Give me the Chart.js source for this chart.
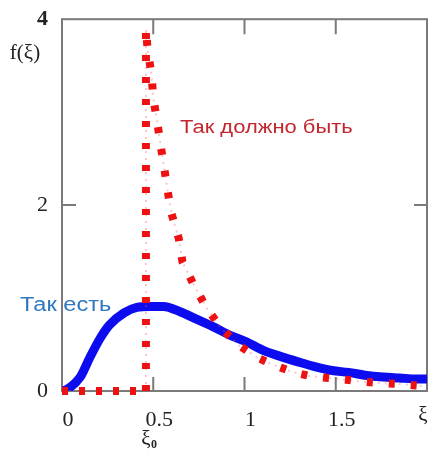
<!DOCTYPE html>
<html>
<head>
<meta charset="utf-8">
<script src="https://cdn.jsdelivr.net/npm/chart.js@4.4.1/dist/chart.umd.min.js"></script>
<style>
  html, body { margin: 0; padding: 0; background: #fff; }
  #wrap { width: 429px; height: 450px; }
</style>
</head>
<body>
<div id="wrap"><canvas id="distChart"></canvas></div>
<script>
// ========== Data ==========
const xiTicks = [0, 0.5, 1, 1.5];
const fTicks = [0, 2, 4];
const xi0 = 0.46;

// "Так есть"
const realXi = [0, 0.03, 0.1, 0.15, 0.21, 0.26, 0.34, 0.41, 0.48, 0.555, 0.65, 0.74, 0.83, 0.92, 1.01, 1.1, 1.2, 1.3, 1.39, 1.48, 1.57, 1.66, 1.76, 1.85, 1.94, 2.0];
const realF  = [0, 0.02, 0.15, 0.35, 0.57, 0.71, 0.84, 0.9, 0.91, 0.91, 0.85, 0.77, 0.69, 0.6, 0.53, 0.44, 0.37, 0.31, 0.26, 0.22, 0.2, 0.17, 0.15, 0.14, 0.13, 0.13];

// "Так должно быть"
const idealXi = [0, 0.46, 0.46, 0.47, 0.49, 0.5, 0.52, 0.54, 0.56, 0.58, 0.6, 0.64, 0.66, 0.72, 0.79, 0.87, 0.97, 1.07, 1.16, 1.27, 1.36, 1.46, 1.56, 1.65, 1.75, 1.85, 1.94, 2.0];
const idealF  = [0, 0, 3.9, 3.65, 3.42, 3.15, 2.92, 2.65, 2.4, 2.14, 1.91, 1.64, 1.39, 1.15, 0.9, 0.68, 0.49, 0.36, 0.28, 0.2, 0.16, 0.14, 0.12, 0.1, 0.085, 0.075, 0.06, 0.05];

const pts = (xs, ys) => xs.map((x, i) => ({ x, y: ys[i] }));
const SERIF = "'Liberation Serif', 'DejaVu Serif', serif";
const SANS = "'Liberation Sans', Arial, sans-serif";

// stretched text, the source picture is a bit wider than tall
function wideText(ctx, text, x, y, sx) {
  ctx.save();
  ctx.translate(x, y);
  ctx.scale(sx, 1);
  ctx.fillText(text, 0, 0);
  ctx.restore();
}

// ========== Frame, inward ticks, labels ==========
const framePlugin = {
  id: 'frame',
  beforeDatasetsDraw(chart) {
    const { ctx, chartArea: a, scales: { x, y } } = chart;
    ctx.save();
    ctx.strokeStyle = '#7a7a7a';
    ctx.lineWidth = 2;
    ctx.strokeRect(a.left, a.top, a.right - a.left, a.bottom - a.top);
    ctx.beginPath();
    xiTicks.filter(v => v > 0).forEach(v => {
      const px = x.getPixelForValue(v);
      ctx.moveTo(px, a.bottom); ctx.lineTo(px, a.bottom - 14);
      ctx.moveTo(px, a.top); ctx.lineTo(px, a.top + 15);
    });
    fTicks.filter(v => v > 0 && v < 4).forEach(v => {
      const py = y.getPixelForValue(v);
      ctx.moveTo(a.left, py); ctx.lineTo(a.left + 14, py);
      ctx.moveTo(a.right, py); ctx.lineTo(a.right - 13, py);
    });
    ctx.stroke();
    ctx.restore();
  },
  afterDatasetsDraw(chart) {
    const { ctx, scales: { x } } = chart;
    ctx.save();
    ctx.textBaseline = 'middle';
    ctx.textAlign = 'center';
    ctx.fillStyle = '#222';
    ctx.font = '21px ' + SERIF;
    ctx.fillText('f(ξ)', 25, 53);
    ctx.fillText('ξ', 423, 415);
    const px0 = x.getPixelForValue(xi0);
    ctx.fillText('ξ', px0, 439);
    ctx.font = 'bold 12px ' + SERIF;
    ctx.fillText('0', px0 + 8, 445);

    ctx.textAlign = 'left';
    ctx.font = '18px ' + SANS;
    ctx.fillStyle = '#c4262e';
    wideText(ctx, 'Так должно быть', 180, 128, 1.22);
    ctx.font = '20px ' + SANS;
    ctx.fillStyle = '#2f78c0';
    wideText(ctx, 'Так есть', 20, 305, 1.18);
    ctx.restore();
  }
};

// ========== Chart ==========
new Chart(document.getElementById('distChart'), {
  type: 'line',
  data: {
    datasets: [
      {
        label: 'Так должно быть', data: pts(idealXi, idealF), borderColor: '#ee1111', borderWidth: 8,
        borderDash: [6, 16], borderCapStyle: 'butt', tension: 0, pointRadius: 0, fill: false, clip: 8,
        segment: { borderDash: c => c.p0DataIndex === 0 ? [6, 11] : undefined }
      },
      { label: 'Так должно быть (фон)', data: pts(idealXi, idealF), borderColor: 'rgba(240,90,90,0.35)', borderWidth: 2, borderDash: [2, 5], tension: 0, pointRadius: 0, fill: false },
      { label: 'Так есть', data: pts(realXi, realF), borderColor: '#0c0cee', borderWidth: 9, cubicInterpolationMode: 'monotone', pointRadius: 0, fill: false },
    ]
  },
  options: {
    responsive: true, maintainAspectRatio: false, animation: false,
    layout: { padding: { top: 18, right: 2, left: 0, bottom: 0 } },
    plugins: { legend: { display: false }, tooltip: { enabled: false } },
    scales: {
      x: {
        type: 'linear', min: 0, max: 2,
        grid: { display: false }, border: { display: false },
        afterBuildTicks: s => { s.ticks = xiTicks.map(v => ({ value: v })); },
        afterFit: s => { s.height = 59; },
        ticks: { color: '#222', padding: 8, labelOffset: 6, font: { size: 22, family: SERIF }, callback: v => String(v) }
      },
      y: {
        min: 0, max: 4,
        grid: { display: false }, border: { display: false },
        afterBuildTicks: s => { s.ticks = fTicks.map(v => ({ value: v })); },
        afterFit: s => { s.width = 62; },
        ticks: { color: '#222', padding: 6, font: ctx => ({ size: 22, family: SERIF, weight: ctx.tick && ctx.tick.value === 4 ? 'bold' : 'normal' }) }
      }
    }
  },
  plugins: [framePlugin]
});
</script>
</body>
</html>
